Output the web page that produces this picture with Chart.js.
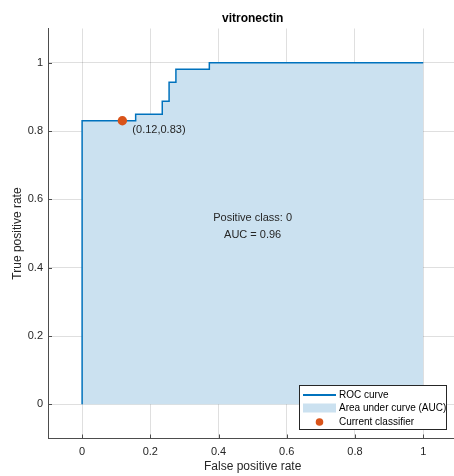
<!DOCTYPE html>
<html>
<head>
<meta charset="utf-8">
<script src="https://cdn.jsdelivr.net/npm/chart.js@4.4.1/dist/chart.umd.min.js"></script>
<style>
html,body{margin:0;padding:0;background:#fff;overflow:hidden;width:454px;height:476px;}
canvas{display:block;}
</style>
</head>
<body>
<canvas id="c" width="462" height="476"></canvas>
<script>
// ROC curve corners (stepped: horizontal first, then vertical)
const fpr = [0, 0, 0.157, 0.235, 0.255, 0.275, 0.373, 1];
const tpr = [0, 0.830, 0.849, 0.887, 0.943, 0.981, 1, 1];
// current classifier
const classifierFpr = [0.118];
const classifierTpr = [0.830];
const classifierLabel = '(0.12,0.83)';
// ticks
const tickValues = [0, 0.2, 0.4, 0.6, 0.8, 1];
const tickLabels = ['0', '0.2', '0.4', '0.6', '0.8', '1'];
const titleText = 'vitronectin';
const xTitle = 'False positive rate';
const yTitle = 'True positive rate';
const annotationLines = ['Positive class: 0', 'AUC = 0.96'];
const legendLabels = ['ROC curve', 'Area under curve (AUC)', 'Current classifier'];

const FONT = '"Liberation Sans", Arial, Helvetica, sans-serif';
const lineColor = '#0072BD';
const fillColor = 'rgb(203,225,240)';
const dotColor = '#D95319';
const axisColor = '#4d4d4d';
const textColor = '#262626';

const rocData = fpr.map((v, i) => ({x: v, y: tpr[i]}));
const dotData = classifierFpr.map((v, i) => ({x: v, y: classifierTpr[i]}));

function setTicks(axis) {
  axis.ticks = tickValues.map(v => ({value: v}));
}
function fmt(v) {
  const i = tickValues.findIndex(t => Math.abs(t - v) < 1e-9);
  return i >= 0 ? tickLabels[i] : '';
}

const decor = {
  id: 'decor',
  afterDatasetsDraw(chart) {
    const {ctx, chartArea: a, scales: {x, y}} = chart;
    ctx.save();
    // inside ticks
    ctx.strokeStyle = axisColor; ctx.lineWidth = 1;
    tickValues.forEach(v => {
      const px = Math.round(x.getPixelForValue(v)) + 0.5;
      ctx.beginPath(); ctx.moveTo(px, a.bottom); ctx.lineTo(px, a.bottom - 4); ctx.stroke();
      const py = Math.round(y.getPixelForValue(v)) + 0.5;
      ctx.beginPath(); ctx.moveTo(a.left, py); ctx.lineTo(a.left + 4, py); ctx.stroke();
    });
    // classifier label
    ctx.fillStyle = textColor;
    ctx.font = '11px ' + FONT;
    ctx.textAlign = 'left'; ctx.textBaseline = 'middle';
    ctx.fillText(classifierLabel, x.getPixelForValue(classifierFpr[0]) + 10, y.getPixelForValue(classifierTpr[0]) + 9);
    // annotation
    ctx.textAlign = 'center';
    const cx = x.getPixelForValue(0.5), cy = y.getPixelForValue(0.5);
    ctx.fillText(annotationLines[0], cx, cy - 16);
    ctx.fillText(annotationLines[1], cx, cy + 1);
    ctx.restore();
  },
  afterDraw(chart) {
    const {ctx, chartArea: a} = chart;
    ctx.save();
    // title
    ctx.fillStyle = '#000';
    ctx.font = 'bold 12px ' + FONT;
    ctx.textAlign = 'center'; ctx.textBaseline = 'middle';
    ctx.fillText(titleText, (a.left + a.right) / 2, 18.5);
    // axis titles
    ctx.fillStyle = textColor;
    ctx.font = '12px ' + FONT;
    ctx.fillText(xTitle, (a.left + a.right) / 2, 466.5);
    ctx.save();
    ctx.translate(17.5, (a.top + a.bottom) / 2);
    ctx.rotate(-Math.PI / 2);
    ctx.fillText(yTitle, 0, 0);
    ctx.restore();
    // legend
    const bx = Math.round(a.right - 158) + 0.5, by = Math.round(a.bottom - 53.5) + 0.5, bw = 147, bh = 44;
    ctx.fillStyle = '#fff';
    ctx.fillRect(bx, by, bw, bh);
    ctx.strokeStyle = '#262626'; ctx.lineWidth = 1;
    ctx.strokeRect(bx, by, bw, bh);
    const sx = bx + 3.5, ex = bx + 36.5, tx = bx + 39.5;
    const r1 = by + 9.5, r2 = by + 22.5, r3 = by + 36.5;
    ctx.strokeStyle = lineColor; ctx.lineWidth = 2;
    ctx.beginPath(); ctx.moveTo(sx, r1); ctx.lineTo(ex, r1); ctx.stroke();
    ctx.fillStyle = fillColor;
    ctx.fillRect(sx, r2 - 4.5, ex - sx, 9);
    ctx.fillStyle = dotColor;
    ctx.beginPath(); ctx.arc((sx + ex) / 2, r3, 3.8, 0, Math.PI * 2); ctx.fill();
    ctx.fillStyle = '#000';
    ctx.font = '10px ' + FONT;
    ctx.textAlign = 'left'; ctx.textBaseline = 'middle';
    ctx.fillText(legendLabels[0], tx, r1);
    ctx.fillText(legendLabels[1], tx, r2);
    ctx.fillText(legendLabels[2], tx, r3);
    ctx.restore();
  }
};

new Chart(document.getElementById('c'), {
  type: 'scatter',
  data: {
    datasets: [
      {
        type: 'line',
        label: legendLabels[1],
        data: rocData,
        stepped: true,
        borderColor: lineColor,
        borderWidth: 1.5,
        backgroundColor: fillColor,
        fill: 'origin',
        pointRadius: 0,
        order: 2
      },
      {
        label: legendLabels[2],
        data: dotData,
        pointRadius: 4.7,
        pointHoverRadius: 4.7,
        backgroundColor: dotColor,
        borderColor: dotColor,
        borderWidth: 0,
        order: 1
      }
    ]
  },
  options: {
    responsive: false,
    animation: false,
    events: [],
    layout: {padding: {top: 28.5, right: 3, left: 0, bottom: 0}},
    plugins: {legend: {display: false}, tooltip: {enabled: false}, title: {display: false}},
    scales: {
      x: {
        type: 'linear', min: -0.1, max: 1.1,
        afterBuildTicks: setTicks,
        afterFit(s) { s.height = 37.5; s.paddingLeft = 0; s.paddingRight = 0; },
        grid: {color: 'rgba(38,38,38,0.15)', drawTicks: false, lineWidth: 1},
        border: {display: true, color: axisColor, width: 1},
        ticks: {callback: fmt, color: textColor, font: {family: FONT, size: 11}, padding: 7, maxRotation: 0, autoSkip: false}
      },
      y: {
        type: 'linear', min: -0.1, max: 1.1,
        afterBuildTicks: setTicks,
        afterFit(s) { s.width = 48; s.paddingTop = 0; s.paddingBottom = 0; },
        grid: {color: 'rgba(38,38,38,0.15)', drawTicks: false, lineWidth: 1},
        border: {display: true, color: axisColor, width: 1},
        ticks: {callback: fmt, color: textColor, font: {family: FONT, size: 11}, padding: 5, autoSkip: false}
      }
    }
  },
  plugins: [decor]
});
</script>
</body>
</html>
